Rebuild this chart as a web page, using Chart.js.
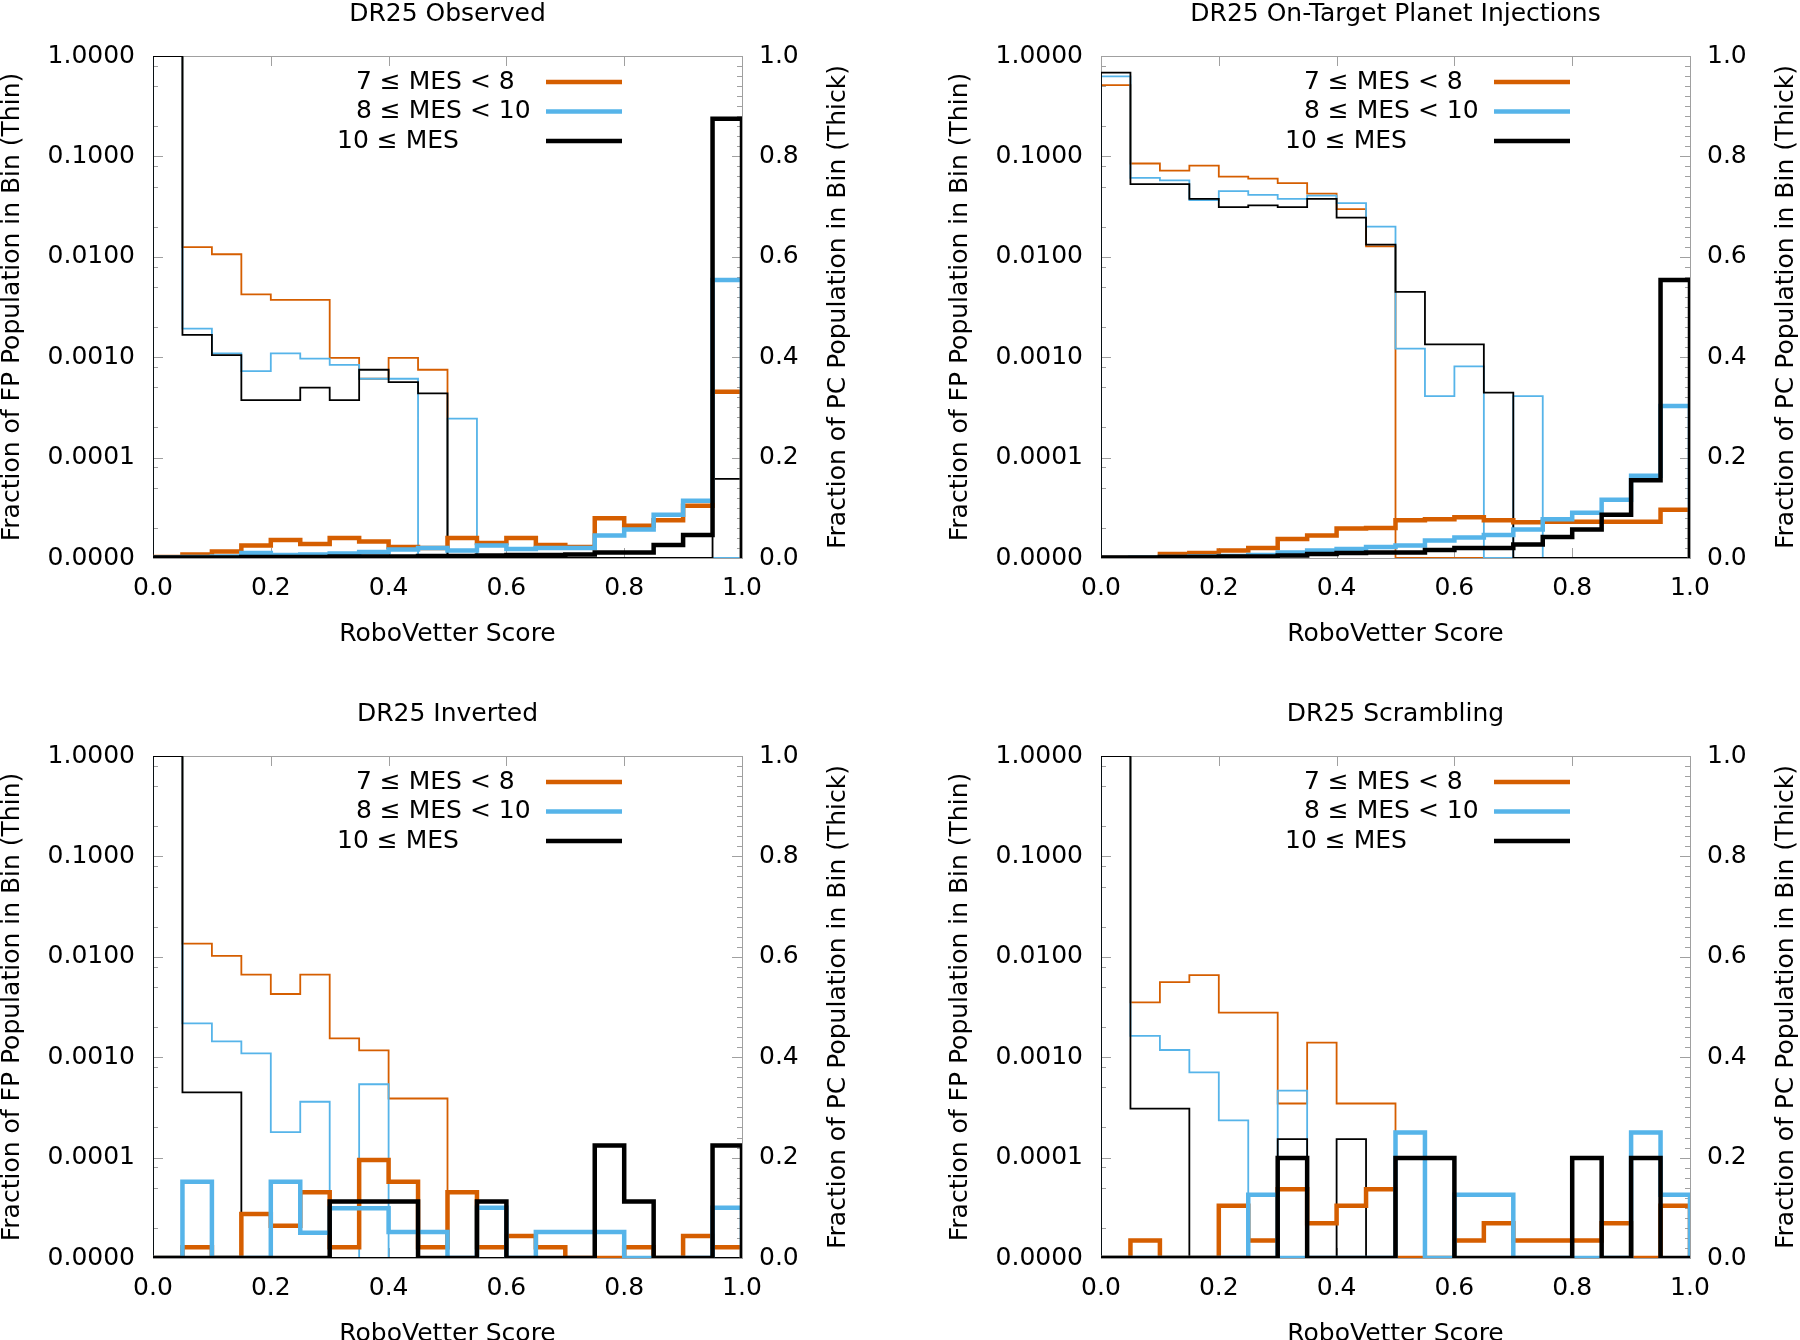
<!DOCTYPE html>
<html>
<head>
<meta charset="utf-8">
<script src="https://cdn.jsdelivr.net/npm/chart.js@4.4.1/dist/chart.umd.min.js"></script>
<style>
  html, body { margin: 0; padding: 0; background: #fff; overflow: hidden; width: 1800px; height: 1340px; }
  canvas { position: absolute; }
</style>
</head>
<body>
<canvas id="c0" width="852" height="650" style="left:0;top:2px"></canvas>
<canvas id="c1" width="852" height="650" style="left:948px;top:2px"></canvas>
<canvas id="c2" width="852" height="650" style="left:0;top:702px"></canvas>
<canvas id="c3" width="852" height="650" style="left:948px;top:702px"></canvas>
<script>
// ── bins / ticks ──
const BIN_EDGES = [0, 0.05, 0.1, 0.15, 0.2, 0.25, 0.3, 0.35, 0.4, 0.45,
                   0.5, 0.55, 0.6, 0.65, 0.7, 0.75, 0.8, 0.85, 0.9, 0.95];
const X_TICKS   = [0, 0.2, 0.4, 0.6, 0.8, 1.0];
const FP_TICKS  = [0.00001, 0.0001, 0.001, 0.01, 0.1, 1];
const PC_TICKS  = [0, 0.2, 0.4, 0.6, 0.8, 1.0];
const MES_LABELS = ['7 \u2264 MES < 8', '8 \u2264 MES < 10', '10 \u2264 MES'];
const COLORS     = ['#D55E00', '#56B4E9', '#000000'];

// ── DR25 Observed ──
const obsFp7  = [1.0, 0.0125, 0.0106, 0.00423, 0.00373, 0.00373, 0.000985, 0.00061, 0.000985, 0.00075, 0, 0, 0, 0, 0, 0, 0, 0, 0, 0];
const obsFp8  = [1.0, 0.00193, 0.00109, 0.000728, 0.00109, 0.00097, 0.000837, 0.00061, 0.00061, 0, 0.000244, 0, 0, 0, 0, 0, 0, 0, 0, 0];
const obsFp10 = [1.0, 0.00167, 0.00105, 0.000373, 0.000373, 0.000498, 0.000373, 0.00075, 0.000564, 0.000436, 0, 0, 0, 0, 0, 0, 0, 0, 0, 0.0000614];
const obsPc7  = [0.002, 0.007, 0.013, 0.025, 0.036, 0.028, 0.040, 0.033, 0.022, 0.020, 0.040, 0.030, 0.040, 0.026, 0.022, 0.079, 0.064, 0.075, 0.104, 0.331];
const obsPc8  = [0.001, 0.002, 0.003, 0.010, 0.006, 0.007, 0.009, 0.012, 0.017, 0.020, 0.015, 0.025, 0.018, 0.020, 0.020, 0.045, 0.057, 0.086, 0.114, 0.554];
const obsPc10 = [0.001, 0.001, 0.001, 0.002, 0.002, 0.002, 0.003, 0.003, 0.003, 0.004, 0.004, 0.005, 0.006, 0.006, 0.007, 0.011, 0.011, 0.026, 0.046, 0.875];

// ── DR25 On-Target Planet Injections ──
const injFp7  = [0.513, 0.085, 0.0722, 0.0811, 0.0628, 0.060, 0.0542, 0.0426, 0.0298, 0.0127, 0, 0, 0, 0, 0, 0, 0, 0, 0, 0];
const injFp8  = [0.628, 0.061, 0.0577, 0.0368, 0.045, 0.0413, 0.0377, 0.0407, 0.0343, 0.020, 0.00122, 0.00041, 0.00081, 0, 0.00041, 0, 0, 0, 0, 0];
const injFp10 = [0.684, 0.053, 0.053, 0.0377, 0.0313, 0.0325, 0.0313, 0.0377, 0.0246, 0.0132, 0.00447, 0.00134, 0.00134, 0.000443, 0, 0, 0, 0, 0, 0];
const injPc7  = [0.000, 0.001, 0.008, 0.010, 0.015, 0.020, 0.038, 0.045, 0.059, 0.060, 0.075, 0.077, 0.081, 0.075, 0.071, 0.072, 0.072, 0.072, 0.072, 0.096];
const injPc8  = [0.000, 0.001, 0.002, 0.003, 0.004, 0.006, 0.011, 0.015, 0.018, 0.022, 0.025, 0.035, 0.041, 0.046, 0.057, 0.077, 0.090, 0.116, 0.164, 0.303];
const injPc10 = [0.001, 0.001, 0.002, 0.002, 0.003, 0.003, 0.005, 0.008, 0.010, 0.011, 0.011, 0.016, 0.020, 0.020, 0.027, 0.042, 0.057, 0.086, 0.155, 0.554];

// ── DR25 Inverted ──
const invFp7  = [1.0, 0.0135, 0.0102, 0.00664, 0.00426, 0.00664, 0.00154, 0.00117, 0.000388, 0.000388, 0, 0, 0, 0, 0, 0, 0, 0, 0, 0];
const invFp8  = [1.0, 0.00217, 0.00144, 0.00109, 0.000179, 0.00036, 0, 0.000538, 0, 0, 0, 0, 0, 0, 0, 0, 0, 0, 0, 0];
const invFp10 = [1.0, 0.000447, 0.000447, 0, 0, 0, 0, 0, 0, 0, 0, 0, 0, 0, 0, 0, 0, 0, 0, 0];
const invPc7  = [0, 0.0215, 0, 0.0875, 0.064, 0.131, 0.0215, 0.195, 0.152, 0.0215, 0.131, 0.0215, 0.044, 0.0215, 0, 0, 0.0215, 0, 0.044, 0.0215];
const invPc8  = [0, 0.152, 0, 0, 0.152, 0.0505, 0.099, 0.099, 0.052, 0.052, 0, 0.100, 0, 0.052, 0.052, 0.052, 0, 0, 0, 0.100];
const invPc10 = [0, 0, 0, 0, 0, 0, 0.1125, 0.1125, 0.1125, 0, 0, 0.1125, 0, 0, 0, 0.224, 0.1125, 0, 0, 0.224];

// ── DR25 Scrambling ──
const scrFp7  = [1.0, 0.00351, 0.00559, 0.00658, 0.00278, 0.00278, 0.000346, 0.0014, 0.000346, 0.000346, 0, 0, 0, 0, 0, 0, 0, 0, 0, 0];
const scrFp8  = [1.0, 0.00163, 0.00118, 0.000705, 0.000235, 0, 0.000464, 0, 0, 0, 0, 0, 0, 0, 0, 0, 0, 0, 0, 0];
const scrFp10 = [1.0, 0.000308, 0.000308, 0, 0, 0, 0.000153, 0, 0.000153, 0, 0, 0, 0, 0, 0, 0, 0, 0, 0, 0];
const scrPc7  = [0, 0.035, 0, 0, 0.104, 0.035, 0.137, 0.069, 0.104, 0.137, 0, 0, 0.035, 0.069, 0.035, 0.035, 0.035, 0.069, 0, 0.104];
const scrPc8  = [0, 0, 0, 0, 0, 0.126, 0, 0, 0, 0, 0.25, 0, 0.126, 0.126, 0, 0, 0, 0, 0.25, 0.126];
const scrPc10 = [0, 0, 0, 0, 0, 0, 0.199, 0, 0, 0, 0.199, 0.199, 0, 0, 0, 0, 0.199, 0, 0.199, 0];

const PANELS = [
  { id: 'c0', title: 'DR25 Observed',                    fp: [obsFp7, obsFp8, obsFp10], pc: [obsPc7, obsPc8, obsPc10] },
  { id: 'c1', title: 'DR25 On-Target Planet Injections', fp: [injFp7, injFp8, injFp10], pc: [injPc7, injPc8, injPc10] },
  { id: 'c2', title: 'DR25 Inverted',                    fp: [invFp7, invFp8, invFp10], pc: [invPc7, invPc8, invPc10] },
  { id: 'c3', title: 'DR25 Scrambling',                  fp: [scrFp7, scrFp8, scrFp10], pc: [scrPc7, scrPc8, scrPc10] },
];

const FONT = "'DejaVu Sans', sans-serif";
const FONT_SIZE = 25;
const FRAME_COLOR = '#a0a0a0';
Chart.defaults.font.family = FONT;
Chart.defaults.color = '#000';

// step outline: starts and ends on the axis floor
function steps(vals, floor) {
  const pts = [{ x: 0, y: floor }];
  vals.forEach((v, i) => pts.push({ x: BIN_EDGES[i], y: v > 0 ? v : floor }));
  pts.push({ x: 1, y: floor });
  return pts;
}

// ── border + inward ticks (gnuplot style) ──
const framePlugin = {
  id: 'frame',
  beforeDatasetsDraw(chart) {
    const { ctx, chartArea: a, scales: { x, y, y2 } } = chart;
    ctx.save();
    ctx.strokeStyle = FRAME_COLOR;
    ctx.lineWidth = 1;
    ctx.strokeRect(a.left + 0.5, a.top + 0.5, a.width, a.height);
    ctx.beginPath();
    X_TICKS.slice(1, -1).forEach(v => {
      const px = Math.round(x.getPixelForValue(v)) + 0.5;
      ctx.moveTo(px, a.bottom); ctx.lineTo(px, a.bottom - 10);
      ctx.moveTo(px, a.top);    ctx.lineTo(px, a.top + 10);
    });
    FP_TICKS.forEach(major => {
      const py = Math.round(y.getPixelForValue(major)) + 0.5;
      ctx.moveTo(a.left, py); ctx.lineTo(a.left + 10, py);
      if (major >= 1) return;
      [2, 5, 8].forEach(m => {
        const my = Math.round(y.getPixelForValue(major * m)) + 0.5;
        ctx.moveTo(a.left, my); ctx.lineTo(a.left + 5, my);
      });
    });
    for (let k = 0; k <= 50; k++) {
      const py = Math.round(y2.getPixelForValue(k / 50)) + 0.5;
      ctx.moveTo(a.right, py); ctx.lineTo(a.right - (k % 10 === 0 ? 10 : 5), py);
    }
    ctx.stroke();
    ctx.restore();
  },
  afterDraw(chart) {
    const { ctx, chartArea: a, scales: { y2 } } = chart;
    ctx.save();
    // right axis title reads bottom-to-top like the left one
    ctx.translate(y2.right - 14, (a.top + a.bottom) / 2);
    ctx.rotate(-Math.PI / 2);
    ctx.font = FONT_SIZE + 'px ' + FONT;
    ctx.fillStyle = '#000';
    ctx.textAlign = 'center';
    ctx.textBaseline = 'middle';
    ctx.fillText('Fraction of PC Population in Bin (Thick)', 0, 0);
    ctx.restore();

    // key
    ctx.save();
    ctx.font = FONT_SIZE + 'px ' + FONT;
    ctx.textBaseline = 'middle';
    ctx.textAlign = 'left';
    const rows = [26, 55.5, 85];
    const textX = [203, 203, 184];
    MES_LABELS.forEach((lab, i) => {
      const yy = a.top + rows[i];
      ctx.fillStyle = '#000';
      ctx.fillText(lab, a.left + textX[i], yy);
      ctx.strokeStyle = COLORS[i];
      ctx.lineWidth = 4.5;
      ctx.beginPath();
      ctx.moveTo(a.left + 393, yy);
      ctx.lineTo(a.left + 469, yy);
      ctx.stroke();
    });
    ctx.restore();
  }
};

function makeChart(p) {
  const datasets = [];
  // thick (PC, right axis) drawn above thin; black on top
  [2, 1, 0].forEach(i => datasets.push({
    data: steps(p.pc[i], 0), yAxisID: 'y2',
    borderColor: COLORS[i], borderWidth: 4.5,
  }));
  [2, 1, 0].forEach(i => datasets.push({
    data: steps(p.fp[i], 0.00001), yAxisID: 'y',
    borderColor: COLORS[i], borderWidth: 1.8,
  }));
  datasets.forEach(d => Object.assign(d, {
    stepped: true, pointRadius: 0, fill: false, tension: 0,
    borderJoinStyle: 'miter', borderCapStyle: 'butt',
  }));

  const tickFont = { family: FONT, size: FONT_SIZE };
  return new Chart(document.getElementById(p.id), {
    type: 'line',
    data: { datasets },
    plugins: [framePlugin],
    options: {
      responsive: false,
      animation: false,
      devicePixelRatio: 1,
      layout: { padding: 0 },
      events: [],
      plugins: {
        legend: { display: false },
        tooltip: { enabled: false },
        title: {
          display: true, text: p.title, color: '#000', fullSize: false,
          font: { family: FONT, size: FONT_SIZE, weight: 'normal', lineHeight: 1 },
          padding: { top: 0, bottom: 54 - FONT_SIZE },
        },
      },
      scales: {
        x: {
          type: 'linear', position: 'bottom', min: 0, max: 1,
          afterBuildTicks: s => { s.ticks = X_TICKS.map(v => ({ value: v })); },
          afterFit: s => { s.height = 94; },
          ticks: { font: tickFont, color: '#000', padding: 15, maxRotation: 0, autoSkip: false,
                   callback: v => v.toFixed(1) },
          grid: { display: false, drawTicks: false },
          border: { display: false },
          title: { display: true, text: 'RoboVetter Score', color: '#000',
                   font: { family: FONT, size: FONT_SIZE }, padding: { top: 0, bottom: 3 } },
        },
        y: {
          type: 'logarithmic', position: 'left', min: 0.00001, max: 1,
          afterBuildTicks: s => { s.ticks = FP_TICKS.map(v => ({ value: v })); },
          afterFit: s => { s.width = 153; },
          ticks: { font: tickFont, color: '#000', padding: 18, autoSkip: false,
                   callback: v => Number(v).toFixed(4) },
          grid: { display: false, drawTicks: false },
          border: { display: false },
          title: { display: true, text: 'Fraction of FP Population in Bin (Thin)', color: '#000',
                   font: { family: FONT, size: FONT_SIZE, lineHeight: 1 }, padding: 0 },
        },
        y2: {
          type: 'linear', position: 'right', min: 0, max: 1,
          afterBuildTicks: s => { s.ticks = PC_TICKS.map(v => ({ value: v })); },
          afterFit: s => { s.width = 110; },
          ticks: { font: tickFont, color: '#000', padding: 17, autoSkip: false,
                   callback: v => v.toFixed(1) },
          grid: { display: false, drawTicks: false },
          border: { display: false },
        },
      },
    },
  });
}

PANELS.forEach(makeChart);
</script>
</body>
</html>
